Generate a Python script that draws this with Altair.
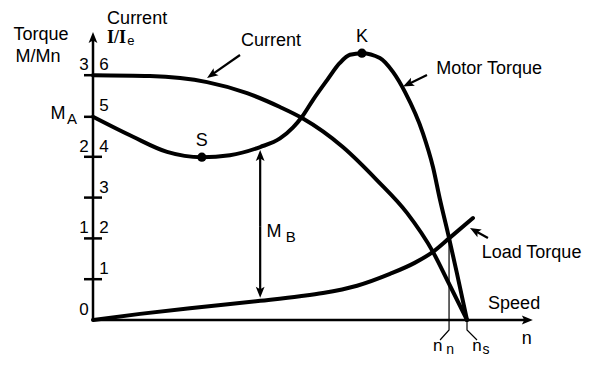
import math
import altair as alt
import pandas as pd

# ---------------- data ----------------
# speed as n/ns, current as I/Ie, torque as M/Mn
current_speed = [0, 0.152, 0.233, 0.305, 0.412, 0.5, 0.559, 0.668, 0.759, 0.840, 0.909, 0.947, 1.0]
current_value = [6.0, 5.98, 5.93, 5.83, 5.56, 5.22, 4.95, 4.24, 3.43, 2.62, 1.67, 0.98, 0.0]

motor_speed = [0, 0.107, 0.198, 0.291, 0.366, 0.447, 0.5, 0.535, 0.559, 0.588, 0.626, 0.660,
               0.687, 0.719, 0.767, 0.802, 0.834, 0.882, 0.909, 0.928, 0.949, 0.973, 1.0]
motor_torque = [2.49, 2.245, 2.06, 1.995, 2.02, 2.12, 2.225, 2.36, 2.49, 2.695, 2.94, 3.15,
                3.25, 3.27, 3.21, 3.04, 2.795, 2.29, 1.875, 1.47, 1.065, 0.575, 0.0]

load_speed = [0, 0.126, 0.259, 0.447, 0.553, 0.615, 0.706, 0.794, 0.860, 0.909, 0.952, 1.016]
load_torque = [0, 0.075, 0.145, 0.235, 0.29, 0.33, 0.42, 0.565, 0.70, 0.835, 1.0, 1.25]

current_ticks = [1, 2, 3, 4, 6]        # ticks crossing the axis
current_labels = [1, 2, 3, 4, 5, 6]
torque_labels = [0, 1, 2, 3]
TORQUE_TO_CURRENT = 2.0                # torque 3 shares the tick of current 6

M_A = 2.49                             # starting torque
S_point = (0.291, 1.995)               # saddle torque
K_point = (0.719, 3.27)                # breakdown torque
n_n = 0.952                            # rated speed (motor = load torque)
n_s = 1.0                              # synchronous speed
MB_speed = 0.447

# ---------------- layout ----------------
W, H = 575, 349
X0, SX = 85.0, 374.0     # px of speed 0, px per unit speed
Y0, SY = 312.0, 40.8     # px of current 0, px per unit current
xsc = alt.Scale(domain=[-X0 / SX, (W - X0) / SX], nice=False, zero=False)
ysc = alt.Scale(domain=[(Y0 - H) / SY, Y0 / SY], nice=False, zero=False)
FONT = "Liberation Sans"


def X(f="x"):
    return alt.X(f"{f}:Q", scale=xsc, axis=None)


def Y(f="y"):
    return alt.Y(f"{f}:Q", scale=ysc, axis=None)


def px(dx):
    return dx / SX


def py(dy):
    return dy / SY


k = TORQUE_TO_CURRENT

# curves
rows = []
for s, v in zip(current_speed, current_value):
    rows.append({"curve": "current", "x": s, "y": v})
for s, v in zip(motor_speed, motor_torque):
    rows.append({"curve": "motor", "x": s, "y": v * k})
for s, v in zip(load_speed, load_torque):
    rows.append({"curve": "load", "x": s, "y": v * k})
curves_df = pd.DataFrame(rows)
curves_df["o"] = range(len(curves_df))

curves = alt.Chart(curves_df).mark_line(
    interpolate="monotone", strokeWidth=4, color="black", strokeCap="round", strokeJoin="round"
).encode(x=X(), y=Y(), detail="curve:N", order="o:Q")

# axes
y_top = 7.06
x_end = 1.176
axes_df = pd.DataFrame([
    {"x": 0.0, "y": 0.0, "x2": 0.0, "y2": y_top - py(6)},
    {"x": 0.0, "y": 0.0, "x2": x_end - px(6), "y2": 0.0},
])
axes = alt.Chart(axes_df).mark_rule(strokeWidth=2.5, color="black").encode(
    x=X(), y=Y(), x2="x2:Q", y2="y2:Q")

# ticks
tick_rows = [{"x": -px(9), "y": c, "x2": px(9), "y2": c} for c in current_ticks]
tick_rows.append({"x": -px(9), "y": M_A * k, "x2": 0, "y2": M_A * k})
ticks = alt.Chart(pd.DataFrame(tick_rows)).mark_rule(strokeWidth=2.5, color="black").encode(
    x=X(), y=Y(), x2="x2:Q", y2="y2:Q")

# thin leader lines for n_n and n_s
lead_rows = []
for i, (xx, yy) in enumerate([(n_n, 1.0 * k), (n_n, -py(10)), (n_n - px(9), -py(20))]):
    lead_rows.append({"g": "nn", "o": i, "x": xx, "y": yy})
for i, (xx, yy) in enumerate([(n_s, 0), (n_s, -py(10)), (n_s + px(10), -py(20))]):
    lead_rows.append({"g": "ns", "o": i, "x": xx, "y": yy})
leaders = alt.Chart(pd.DataFrame(lead_rows)).mark_line(strokeWidth=1.2, color="black").encode(
    x=X(), y=Y(), detail="g:N", order="o:Q")

# annotation arrows (tail -> tip)
arrows = [
    ((0.393, 6.495), (0.305, 5.93)),                       # Current
    ((0.893, 6.005), (0.829, 5.72)),                       # Motor Torque
    ((1.056, 2.01), (1.008, 2.255)),                       # Load Torque
    ((MB_speed, 2.3), (MB_speed, 2.12 * k - py(3))),       # M_B up
    ((MB_speed, 2.3), (MB_speed, 0.235 * k + py(3))),      # M_B down
]
shaft_rows, head_rows = [], []
for (ts, tc), (hs, hc) in arrows:
    dxp = (hs - ts) * SX
    dyp = -(hc - tc) * SY
    L = math.hypot(dxp, dyp)
    ux, uy = dxp / L, dyp / L
    ex, ey = hs - px(5 * ux), hc + py(5 * uy)
    shaft_rows.append({"x": ts, "y": tc, "x2": ex, "y2": ey})
    ang = math.degrees(math.atan2(dxp, -dyp)) % 360
    head_rows.append({"x": hs, "y": hc, "a": ang})
head_rows.append({"x": 0.0, "y": y_top, "a": 0.0})
head_rows.append({"x": x_end, "y": 0.0, "a": 90.0})

shafts = alt.Chart(pd.DataFrame(shaft_rows)).mark_rule(strokeWidth=2.2, color="black").encode(
    x=X(), y=Y(), x2="x2:Q", y2="y2:Q")
heads = alt.Chart(pd.DataFrame(head_rows)).mark_point(
    shape="M0,0L-0.4,1L0,0.78L0.4,1Z", size=484, filled=True, color="black", opacity=1,
    strokeWidth=0
).encode(x=X(), y=Y(), angle=alt.Angle("a:Q", scale=None))

# key points S and K
pts_df = pd.DataFrame([
    {"name": "S", "x": S_point[0], "y": S_point[1] * k},
    {"name": "K", "x": K_point[0], "y": K_point[1] * k},
])
dots = alt.Chart(pts_df).mark_circle(size=85, color="black", opacity=1).encode(x=X(), y=Y())
dot_labels = alt.Chart(pts_df).mark_text(font=FONT, fontSize=18, dy=-16, color="black").encode(
    x=X(), y=Y(), text="name:N")

# tick labels
cur_lab = alt.Chart(pd.DataFrame({"y": current_labels, "t": [str(v) for v in current_labels]})).mark_text(
    font=FONT, fontSize=17, dx=11, dy=-10, color="black"
).encode(x=alt.value(X0), y=Y(), text="t:N")
tor_lab = alt.Chart(pd.DataFrame({"y": [v * k for v in torque_labels],
                                  "t": [str(v) for v in torque_labels]})).mark_text(
    font=FONT, fontSize=17, dx=-9, dy=-10, color="black"
).encode(x=alt.value(X0), y=Y(), text="t:N")

# free text annotations
ann = pd.DataFrame([
    {"t": "Torque", "x": -0.139, "y": 6.985, "s": 18},
    {"t": "M/Mn", "x": -0.147, "y": 6.446, "s": 18},
    {"t": "Current", "x": 0.118, "y": 7.377, "s": 18},
    {"t": "e", "x": 0.1015, "y": 6.83, "s": 13},
    {"t": "Current", "x": 0.476, "y": 6.838, "s": 18},
    {"t": "Motor Torque", "x": 1.059, "y": 6.164, "s": 18},
    {"t": "Load Torque", "x": 1.1725, "y": 1.63, "s": 18},
    {"t": "Speed", "x": 1.126, "y": 0.392, "s": 18},
    {"t": "n", "x": 1.160, "y": -0.466, "s": 18},
    {"t": "M", "x": -0.0936, "y": 5.05, "s": 18},
    {"t": "A", "x": -0.0561, "y": 4.93, "s": 15},
    {"t": "M", "x": 0.484, "y": 2.157, "s": 18},
    {"t": "B", "x": 0.529, "y": 2.034, "s": 15},
    {"t": "n", "x": 0.922, "y": -0.637, "s": 17},
    {"t": "n", "x": 0.955, "y": -0.735, "s": 14},
    {"t": "n", "x": 1.027, "y": -0.637, "s": 17},
    {"t": "s", "x": 1.051, "y": -0.735, "s": 14},
])
texts = alt.Chart(ann).mark_text(font=FONT, align="center", baseline="middle", color="black").encode(
    x=X(), y=Y(), text="t:N", size=alt.Size("s:Q", scale=None))
serif = alt.Chart(pd.DataFrame([{"t": "I/I", "x": 0.0374, "y": 6.91}])).mark_text(
    font="Liberation Serif", fontWeight="bold", fontSize=18, align="left", baseline="middle", color="black"
).encode(x=X(), y=Y(), text="t:N")

chart = alt.layer(
    axes, ticks, leaders, curves, shafts, heads, dots, dot_labels, cur_lab, tor_lab, texts, serif
).properties(
    width=W, height=H, padding=0, autosize=alt.AutoSizeParams(type="none"), background="white"
).configure_view(stroke=None)

chart.save("out.html", embed_options={"renderer": "svg", "actions": False})
